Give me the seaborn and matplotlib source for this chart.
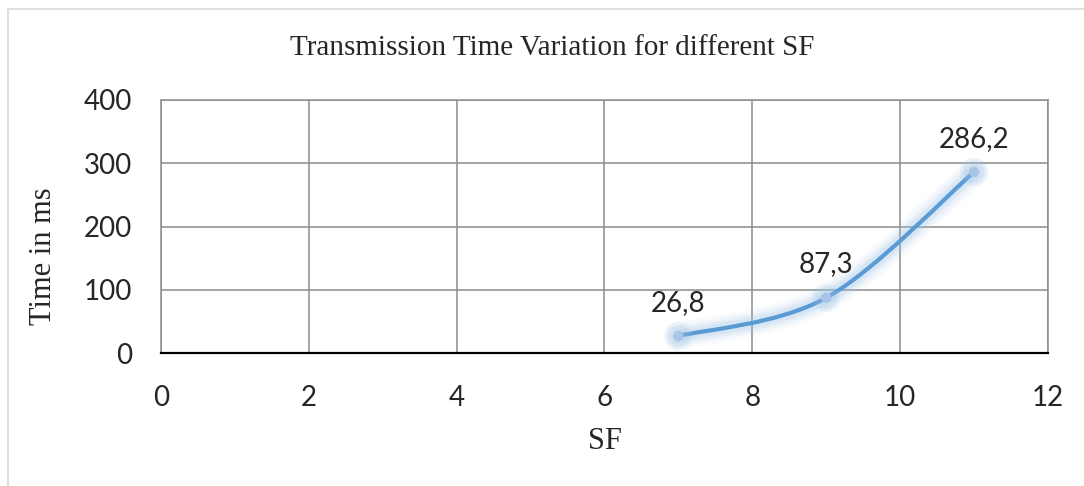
import numpy as np
import pandas as pd
import matplotlib
matplotlib.use("Agg")
import matplotlib.pyplot as plt
from matplotlib.path import Path
from matplotlib.patches import PathPatch, Rectangle
import seaborn as sns

# data
sf_values = [7, 9, 11]
time_ms = [26.8, 87.3, 286.2]
point_labels = ["26,8", "87,3", "286,2"]
x_ticks = [0, 2, 4, 6, 8, 10, 12]
y_ticks = [0, 100, 200, 300, 400]

df = pd.DataFrame({"SF": sf_values, "Time": time_ms})

sns.set_style("white")
serif = ["Liberation Serif", "DejaVu Serif"]
sans = ["Lato", "DejaVu Sans"]

fig = plt.figure(figsize=(10.84, 4.86), dpi=100)
ax = fig.add_axes([161 / 1084, 1 - 353 / 486, 887 / 1084, 253 / 486])

# light grey chart-area border like the Excel frame
fig.patches.append(Rectangle((8 / 1084, -0.1), 1.2, 1 - 9 / 486 + 0.1,
                             transform=fig.transFigure, fill=False,
                             edgecolor="#d9d9d9", linewidth=1.2))

ax.set_xlim(0, 12)
ax.set_ylim(0, 400)
ax.set_xticks(x_ticks)
ax.set_yticks(y_ticks)
ax.grid(True, color="#8c8c8c", linewidth=1.1)
ax.set_axisbelow(True)
for side in ["left", "top", "right"]:
    ax.spines[side].set_color("#8c8c8c")
    ax.spines[side].set_linewidth(1.1)
ax.spines["bottom"].set_color("black")
ax.spines["bottom"].set_linewidth(1.6)
ax.tick_params(axis="both", length=0, labelsize=20)
ax.tick_params(axis="x", pad=23)
ax.tick_params(axis="y", pad=21)
for lab in ax.get_xticklabels() + ax.get_yticklabels():
    lab.set_family(sans)

# smoothed line (Excel style bezier through the points)
pts = np.column_stack([sf_values, time_ms])
verts = [tuple(pts[0])]
codes = [Path.MOVETO]
n = len(pts)
for i in range(n - 1):
    p_prev = pts[max(i - 1, 0)]
    p0 = pts[i]
    p1 = pts[i + 1]
    p_next = pts[min(i + 2, n - 1)]
    c1 = p0 + (p1 - p_prev) / 6
    c2 = p1 - (p_next - p0) / 6
    verts += [tuple(c1), tuple(c2), tuple(p1)]
    codes += [Path.CURVE4] * 3
curve = Path(verts, codes)

# glow
for lw, a in [(20, 0.07), (15, 0.1), (11, 0.13), (8, 0.16)]:
    ax.add_patch(PathPatch(curve, fill=False, edgecolor="#9dc3e6",
                           linewidth=lw, alpha=a, capstyle="round", zorder=3))
ax.add_patch(PathPatch(curve, fill=False, edgecolor="#5b9bd5",
                       linewidth=3.0, capstyle="round", zorder=4))

for s, a in [(420, 0.14), (260, 0.2)]:
    sns.scatterplot(data=df, x="SF", y="Time", ax=ax, s=s, color="#9dc3e6",
                    alpha=a, edgecolor="none", zorder=4, legend=False)
sns.scatterplot(data=df, x="SF", y="Time", ax=ax, s=55, color="#a7c6e6",
                edgecolor="none", zorder=5, legend=False)

for x, y, t in zip(sf_values, time_ms, point_labels):
    ax.annotate(t, (x, y), xytext=(0, 24), textcoords="offset points",
                ha="center", va="center", fontsize=20, family=sans, zorder=6)

ax.set_xlabel("SF", fontsize=22, family=serif)
ax.xaxis.set_label_coords(0.5, -0.348)
ax.xaxis.label.set_verticalalignment("center")
ax.set_ylabel("Time in ms", fontsize=22, family=serif)
ax.yaxis.set_label_coords(-0.133, 0.383)
ax.yaxis.label.set_verticalalignment("center")

fig.text(552 / 1084, 1 - 48 / 486, "Transmission Time Variation for different SF",
         ha="center", va="center", fontsize=21, family=serif)

fig.savefig("out.png", dpi=100)
